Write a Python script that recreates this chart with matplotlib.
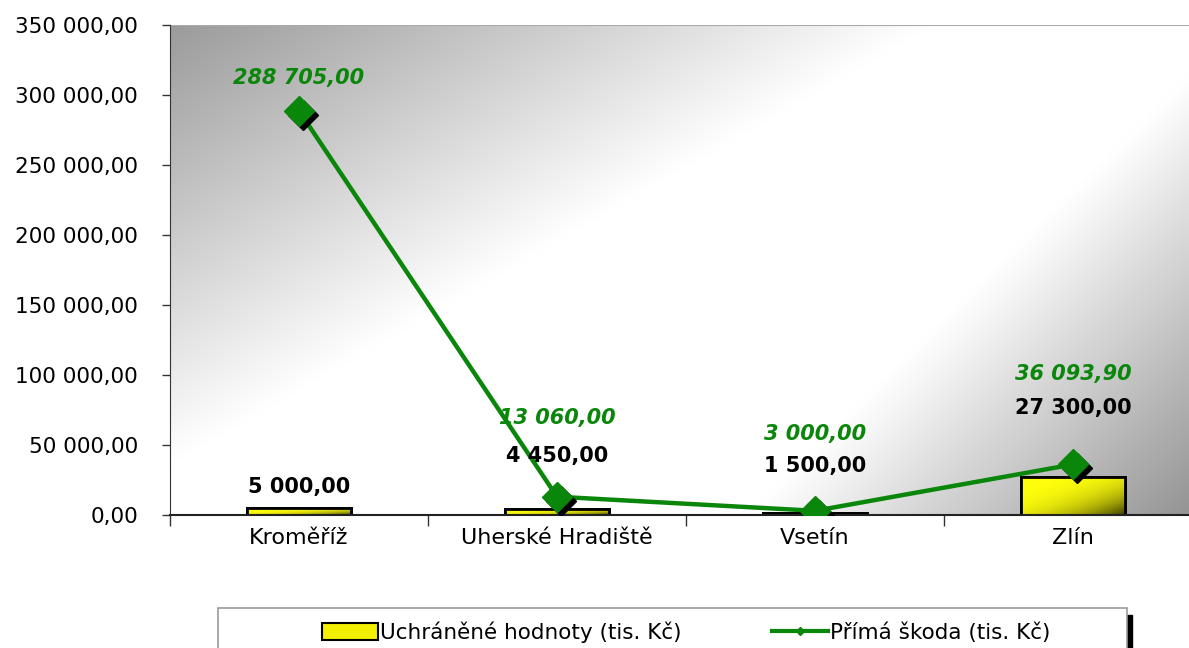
import numpy as np
import matplotlib
matplotlib.use("Agg")
import matplotlib.pyplot as plt
import matplotlib.transforms as mtransforms
from matplotlib.patches import Rectangle
from matplotlib.lines import Line2D

# Data
districts = ["Kroměříž", "Uherské Hradiště", "Vsetín", "Zlín"]
saved_values = [5000.00, 4450.00, 1500.00, 27300.00]          # Uchráněné hodnoty
direct_damage = [288705.00, 13060.00, 3000.00, 36093.90]      # Přímá škoda
y_ticks = [0, 50000, 100000, 150000, 200000, 250000, 300000, 350000]

# label offsets above the marks (pixels)
bar_label_off = [21, 53, 47, 69]
line_label_off = [33, 79, 77, 90]


def cz_format(v):
    s = f"{v:,.2f}"
    return s.replace(",", " ").replace(".", ",")


plt.rcParams['font.family'] = ['DejaVu Sans']

W, H = 1189, 648
fig = plt.figure(figsize=(W / 100, H / 100), dpi=100)
ax_l, ax_r, ax_t, ax_b = 170, 1202, 25, 515
ax = fig.add_axes([ax_l / W, 1 - ax_b / H, (ax_r - ax_l) / W, (ax_b - ax_t) / H])

x = np.arange(len(districts))
ax.set_xlim(-0.5, len(districts) - 0.5)
ax.set_ylim(0, 350000)

# background: dark top-left corner and dark bottom-right corner, white between
px = np.linspace(ax_l, ax_r, 400)
py = np.linspace(ax_t, ax_b, 200)
PX, PY = np.meshgrid(px, py)
d1 = (PX - ax_l) * 0.5 + (PY - ax_t) * 0.866
d2 = (ax_r - PX) * 0.707 + (ax_b - PY) * 0.707
g = 255 - 100 * np.clip(1 - d1 / 380, 0, 1) - 110 * np.clip(1 - d2 / 320, 0, 1)
g = np.clip(g, 0, 255)
img = np.dstack([g, g, g]) / 255.0
ax.imshow(img, extent=(-0.5, len(districts) - 0.5, 0, 350000), origin='upper',
          aspect='auto', zorder=0, interpolation='bilinear')

# bars with a yellow shading
bars = ax.bar(x, saved_values, width=0.4, color='#f2f000', edgecolor='black',
              linewidth=2, zorder=2)
gx = np.linspace(0, 1, 60)
gy = np.linspace(0, 1, 30)
GX, GY = np.meshgrid(gx, gy)
t = np.clip((GX + GY) / 2, 0, 1) ** 3
yel = np.dstack([1 - 0.75 * t, 1 - 0.75 * t, 0.05 * (1 - t)])
for b in bars:
    im = ax.imshow(yel, extent=(b.get_x(), b.get_x() + b.get_width(), 0, b.get_height()),
                   origin='upper', aspect='auto', zorder=2.1, interpolation='bilinear')
    im.set_clip_path(b)
    ax.add_patch(Rectangle((b.get_x(), 0), b.get_width(), b.get_height(),
                           fill=False, edgecolor='black', linewidth=2, zorder=2.2))
for xi, v, off in zip(x, saved_values, bar_label_off):
    ax.annotate(cz_format(v), (xi, v), xytext=(0, off), textcoords='offset pixels',
                ha='center', va='center', fontsize=15, fontweight='bold',
                color='black', zorder=5)

# line with shadowed diamond markers
green = '#0a870a'
ax.plot(x, direct_damage, color=green, linewidth=3.2, zorder=3, solid_capstyle='round')
shadow = mtransforms.offset_copy(ax.transData, fig=fig, x=4, y=-4, units='dots')
ax.plot(x, direct_damage, linestyle='none', marker='D', markersize=15,
        color='black', transform=shadow, zorder=3.5)
ax.plot(x, direct_damage, linestyle='none', marker='D', markersize=15,
        color=green, zorder=4)
for xi, v, off in zip(x, direct_damage, line_label_off):
    ax.annotate(cz_format(v), (xi, v), xytext=(0, off), textcoords='offset pixels',
                ha='center', va='center', fontsize=15, fontweight='bold',
                fontstyle='italic', color=green, zorder=5)

# axes styling
ax.set_yticks(y_ticks)
ax.set_yticklabels([cz_format(v) for v in y_ticks], fontsize=15.5)
ax.tick_params(axis='y', length=6, width=1, pad=17, color='#333333')
ax.set_xticks(x)
ax.set_xticklabels(districts, fontsize=16)
ax.tick_params(axis='x', length=0, pad=9)
ax.set_xticks(np.arange(-0.5, len(districts), 1.0), minor=True)
ax.tick_params(axis='x', which='minor', length=8, width=1, color='#333333')
for s in ['top', 'right']:
    ax.spines[s].set_visible(False)
ax.spines['left'].set_color('#333333')
ax.spines['bottom'].set_color('#222222')
ax.spines['bottom'].set_linewidth(1.5)
ax.axhline(350000, color='#aaaaaa', linewidth=1.5, zorder=1)

# legend box
fig.patches.append(Rectangle((1127 / W, -0.01), 5 / W, 1 - 615 / H + 0.01,
                             transform=fig.transFigure, color='black', zorder=0))
fig.patches.append(Rectangle((218 / W, -0.01), (1127 - 218) / W, 1 - 608 / H + 0.01,
                             transform=fig.transFigure, facecolor='white',
                             edgecolor='#999999', linewidth=1.2, zorder=1))
handles = [
    Rectangle((0, 0), 1, 1, facecolor='#f2f000', edgecolor='black', linewidth=1.5),
    Line2D([], [], color=green, linewidth=3, marker='D', markersize=4),
]
labels = ["Uchráněné hodnoty (tis. Kč)", "Přímá škoda (tis. Kč)"]
leg = fig.legend(handles, labels, loc='center', ncol=2, frameon=False,
                 bbox_to_anchor=(0.577, 1 - 632 / H),
                 prop={'family': ['Liberation Sans Narrow', 'DejaVu Sans'], 'size': 15.5},
                 handlelength=2.6, handleheight=0.8, handletextpad=0.1,
                 columnspacing=4.2)

fig.savefig("out.png", dpi=100)
